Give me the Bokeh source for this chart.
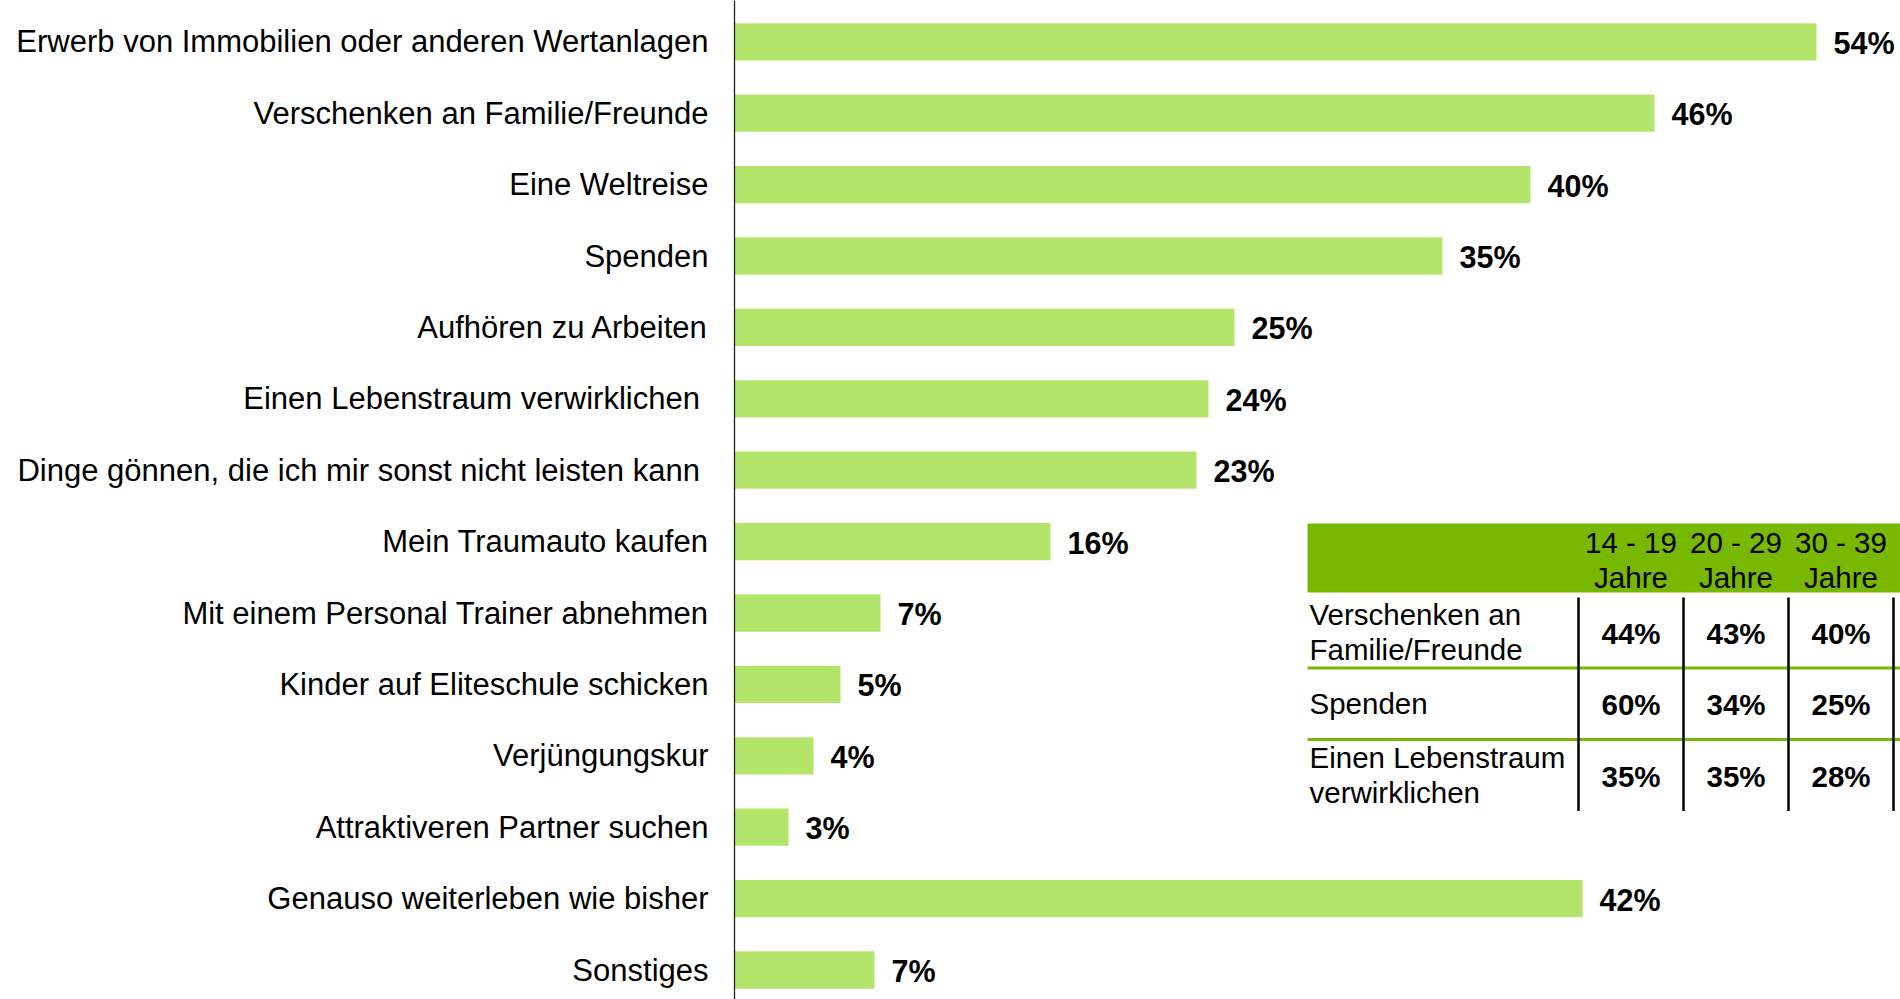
from bokeh.plotting import figure
from bokeh.models import Range1d, FixedTicker, ColumnDataSource
from bokeh.core.properties import value
from bokeh.embed import file_html
from bokeh.resources import INLINE

# ---------------- data ----------------
categories = [
    "Erwerb von Immobilien oder anderen Wertanlagen",
    "Verschenken an Familie/Freunde",
    "Eine Weltreise",
    "Spenden",
    "Aufhören zu Arbeiten",
    "Einen Lebenstraum verwirklichen\u00a0",
    "Dinge gönnen, die ich mir sonst nicht leisten kann\u00a0",
    "Mein Traumauto kaufen",
    "Mit einem Personal Trainer abnehmen",
    "Kinder auf Eliteschule schicken",
    "Verjüngungskur",
    "Attraktiveren Partner suchen",
    "Genauso weiterleben wie bisher",
    "Sonstiges",
]
# printed (rounded) percentages
values = [54, 46, 40, 35, 25, 24, 23, 16, 7, 5, 4, 3, 42, 7]
# bar lengths as drawn in the picture (unrounded shares, %)
bar_lengths = [54.1, 46.0, 39.8, 35.4, 25.0, 23.7, 23.1, 15.8, 7.3, 5.3, 3.95, 2.7, 42.4, 7.0]

table_cols = ["14 - 19\nJahre", "20 - 29\nJahre", "30 - 39\nJahre"]
table_rows = ["Verschenken an\nFamilie/Freunde", "Spenden", "Einen Lebenstraum\nverwirklichen"]
table_14_19 = [44, 60, 35]
table_20_29 = [43, 34, 35]
table_30_39 = [40, 25, 28]

# ---------------- styling / layout ----------------
FONT = value("Liberation Sans")
BAR = "#b3e56b"
GREEN = "#78b800"

W, H = 1900, 999
BORDER_L = 734
px_per_pct = 20.0
band = 71.4
first_center = 41.3  # page y of first bar centre

frame_left = BORDER_L
frame_right = W
frame_top = 0
frame_bottom = H

x_range = Range1d(0, (frame_right - frame_left) / px_per_pct)
y_range = Range1d(start=(frame_bottom - first_center) / band,
                  end=(frame_top - first_center) / band)

p = figure(width=W, height=H, x_range=x_range, y_range=y_range,
           output_backend="svg", toolbar_location=None,
           x_axis_location=None, y_axis_location="left",
           min_border_left=BORDER_L, min_border_right=0,
           min_border_top=0, min_border_bottom=0)
p.outline_line_color = None
p.xgrid.visible = False
p.ygrid.visible = False
p.background_fill_color = "white"
p.border_fill_color = "white"

idx = list(range(len(categories)))
src = ColumnDataSource(dict(y=idx, v=bar_lengths, lab=[f"{v}%" for v in values]))

p.hbar(y="y", left=0, right="v", height=0.522, source=src,
       fill_color=BAR, line_color=None)
p.text(x="v", y="y", text="lab", source=src, x_offset=17, y_offset=1,
       text_baseline="middle", text_align="left",
       text_font=FONT, text_font_style="bold", text_font_size="30.5px",
       text_color="black")

ax = p.yaxis[0]
ax.ticker = FixedTicker(ticks=idx)
ax.major_label_overrides = {i: c for i, c in zip(idx, categories)}
ax.major_tick_out = 0
ax.major_tick_in = 0
ax.minor_tick_out = 0
ax.minor_tick_in = 0
ax.major_label_standoff = 26
ax.major_label_text_font = "Liberation Sans"
ax.major_label_text_font_size = "31px"
ax.major_label_text_color = "black"
ax.axis_line_color = "#222222"
ax.axis_line_width = 1.3

# ---------------- inset table (page-pixel coordinates) ----------------
p.extra_x_ranges = {"px": Range1d(frame_left, frame_right)}
p.extra_y_ranges = {"px": Range1d(start=frame_bottom, end=frame_top)}
kw = dict(x_range_name="px", y_range_name="px")

t_left = 1307
head_top, head_bot = 523, 592
col0 = 1578
col_w = 105
row_top = 596
row_h = 71.5
n_rows = len(table_rows)
n_cols = len(table_cols)
TFS = "29.5px"
LINE = 35

p.quad(left=t_left, right=frame_right, top=head_top, bottom=head_bot,
       fill_color=GREEN, line_color=None, **kw)

seps = [row_top + row_h * (r + 1) for r in range(n_rows - 1)]
p.segment(x0=[t_left] * len(seps), x1=[frame_right] * len(seps), y0=seps, y1=seps,
          line_color=GREEN, line_width=3, **kw)

vx = [col0 + col_w * k for k in range(n_cols + 1)]
p.segment(x0=vx, x1=vx, y0=[row_top + 1] * len(vx),
          y1=[row_top + row_h * n_rows] * len(vx),
          line_color="black", line_width=2.5, **kw)

# header text
hx, hy, ht = [], [], []
for j, c in enumerate(table_cols):
    lines = c.split("\n")
    mid = (head_top + head_bot) / 2 + 1.5
    n = len(lines)
    for k, ln in enumerate(lines):
        hx.append(col0 + col_w * (j + 0.5))
        hy.append(mid + (k - (n - 1) / 2) * LINE)
        ht.append(ln)
p.text(x=hx, y=hy, text=ht, text_align="center", text_baseline="middle",
       text_font=FONT, text_font_size=TFS, text_color="black", **kw)

# row labels
rx, ry, rt = [], [], []
for r, lab in enumerate(table_rows):
    lines = lab.split("\n")
    mid = row_top + row_h * (r + 0.5)
    n = len(lines)
    for k, ln in enumerate(lines):
        rx.append(t_left + 2)
        ry.append(mid + (k - (n - 1) / 2) * LINE)
        rt.append(ln)
p.text(x=rx, y=ry, text=rt, text_align="left", text_baseline="middle",
       text_font=FONT, text_font_size=TFS, text_color="black", **kw)

# values
cols_vals = [table_14_19, table_20_29, table_30_39]
vxs, vys, vts = [], [], []
for j, colv in enumerate(cols_vals):
    for r, v in enumerate(colv):
        vxs.append(col0 + col_w * (j + 0.5))
        vys.append(row_top + row_h * (r + 0.5) + 1)
        vts.append(f"{v}%")
p.text(x=vxs, y=vys, text=vts, text_align="center", text_baseline="middle",
       text_font=FONT, text_font_style="bold", text_font_size=TFS,
       text_color="black", **kw)

open("out.html", "w").write(file_html(p, INLINE))
